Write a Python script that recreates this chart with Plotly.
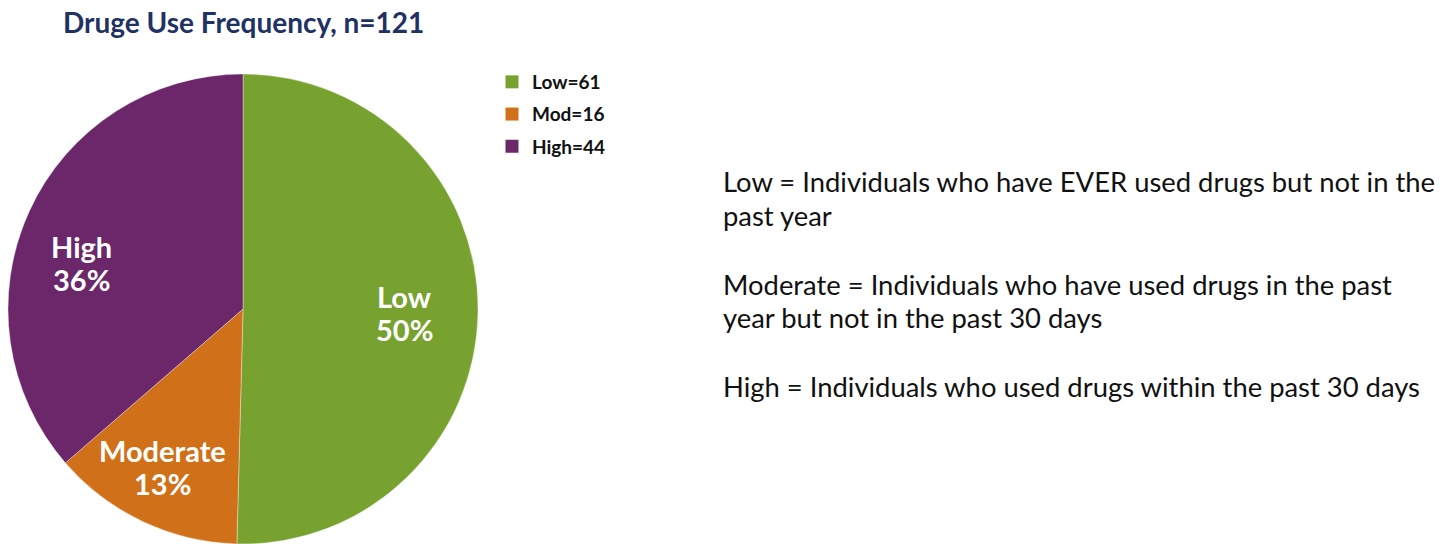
import math
import plotly.graph_objects as go

categories = ["Low", "Moderate", "High"]
legend_labels = ["Low=61", "Mod=16", "High=44"]
counts = [61, 16, 44]
colors = ["#78A22F", "#D0711A", "#6B2769"]

title_text = "Druge Use Frequency, n=121"
notes = [
    "Low = Individuals who have EVER used drugs but not in the",
    "past year",
    "",
    "Moderate = Individuals who have used drugs in the past",
    "year but not in the past 30 days",
    "",
    "High = Individuals who used drugs within the past 30 days",
]

W, H = 1456, 544
FONT = "Lato"
TEXT_COLOR = "#111111"

# pie placement (pixels)
PX0, PX1 = 8, 478
PR = (PX1 - PX0) / 2
PCX = (PX0 + PX1) / 2
PCY = H - PR

# small label nudges (pixels) to mimic best-fit placement
label_nudge = [(-5, 2), (-9, 7), (-10, 23)]

fig = go.Figure()
fig.add_trace(go.Pie(
    labels=categories,
    values=counts,
    textinfo="none",
    marker=dict(colors=colors, line=dict(width=0.6, color="rgba(255,255,255,0.6)")),
    sort=False,
    direction="clockwise",
    rotation=0,
    domain=dict(x=[PX0 / W, PX1 / W], y=[0, (2 * PR) / H]),
    hoverinfo="label+percent",
    showlegend=False,
))

# legend entries (one group each so spacing can be controlled)
for lab, col in zip(legend_labels, colors):
    fig.add_trace(go.Scatter(
        x=[None], y=[None], mode="markers", name=lab,
        marker=dict(symbol="square", size=13, color=col),
        legendgroup=lab, showlegend=True, hoverinfo="skip",
    ))

annotations = [dict(
    text=f"<b>{title_text}</b>",
    x=61 / W, y=1 - 22 / H, xref="paper", yref="paper",
    xanchor="left", yanchor="middle", showarrow=False,
    font=dict(family=FONT, size=28, color="#1F3264"),
)]

# slice labels placed at the middle angle of each slice
total = sum(counts)
cum = 0
for (cat, v), (dx, dy) in zip(zip(categories, counts), label_nudge):
    mid = (cum + v / 2) / total * 2 * math.pi
    cum += v
    rr = PR * 0.71
    lx = PCX + rr * math.sin(mid) + dx
    ly = PCY - rr * math.cos(mid) + dy
    pct = round(v / total * 100)
    for txt, off in ((cat, -16.5), (f"{pct}%", 16.5)):
        annotations.append(dict(
            text=f"<b>{txt}</b>",
            x=lx / W, y=1 - (ly + off) / H, xref="paper", yref="paper",
            xanchor="center", yanchor="middle", showarrow=False,
            font=dict(family=FONT, size=29, color="white"),
        ))

# explanatory notes
y = 182
for line in notes:
    if line:
        annotations.append(dict(
            text=line, x=721 / W, y=1 - y / H, xref="paper", yref="paper",
            xanchor="left", yanchor="middle", showarrow=False,
            font=dict(family=FONT, size=27.4, color=TEXT_COLOR),
        ))
        y += 33
    else:
        y += 36

fig.update_layout(
    width=W, height=H,
    margin=dict(l=0, r=0, t=0, b=0),
    paper_bgcolor="white",
    plot_bgcolor="white",
    font=dict(family=FONT),
    showlegend=True,
    xaxis=dict(visible=False),
    yaxis=dict(visible=False),
    legend=dict(
        x=492 / W, y=1 - 63 / H, xanchor="left", yanchor="top",
        font=dict(family=FONT, size=19, color=TEXT_COLOR, weight="bold"),
        itemwidth=30, tracegroupgap=4.5,
        bgcolor="rgba(0,0,0,0)",
    ),
    annotations=annotations,
)

fig.write_html("out.html")
